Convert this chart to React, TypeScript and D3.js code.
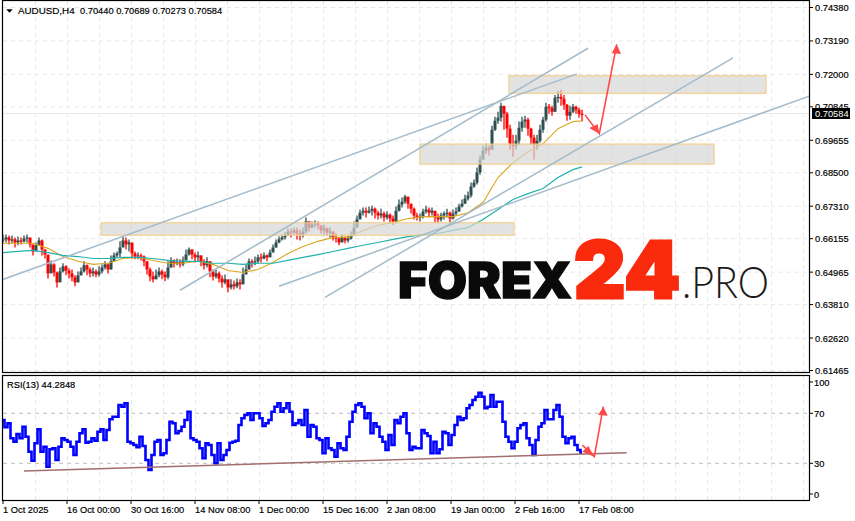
import React from "react";
import * as d3 from "d3";

// Prices are in pips (1/10000); bars are 4-hour bars sampled across the axis.
const closes = [6613,6620,6609,6613,6602,6609,6606,6616,6620,6595,6570,6592,6609,6577,6559,6492,6524,6495,6460,6499,6517,6502,6492,6478,6460,6485,6499,6521,6506,6492,6499,6488,6499,6513,6524,6506,6535,6556,6563,6584,6609,6595,6602,6563,6552,6556,6552,6535,6506,6481,6471,6485,6499,6488,6478,6513,6535,6528,6531,6524,6538,6559,6577,6559,6549,6556,6535,6521,6535,6499,6481,6492,6474,6460,6471,6442,6453,6446,6460,6453,6488,6506,6535,6531,6535,6549,6545,6556,6549,6566,6584,6602,6613,6620,6627,6641,6638,6645,6634,6630,6641,6677,6655,6666,6670,6663,6645,6652,6638,6641,6620,6616,6602,6620,6609,6616,6627,6655,6684,6708,6715,6708,6715,6722,6708,6698,6705,6691,6701,6687,6677,6715,6737,6747,6765,6740,6722,6698,6691,6694,6712,6719,6708,6715,6691,6684,6698,6705,6708,6687,6705,6712,6730,6740,6758,6769,6801,6815,6851,6897,6929,6939,6932,7003,7035,7046,7088,7060,7007,6953,6946,6964,7010,7032,7039,7007,6975,6950,6964,7003,7039,7085,7081,7067,7117,7120,7113,7092,7053,7067,7085,7074,7060,7058];
const highs = [6630,6630,6627,6627,6620,6623,6620,6627,6630,6613,6592,6602,6620,6613,6577,6549,6538,6528,6499,6513,6528,6521,6510,6506,6485,6499,6513,6535,6524,6513,6513,6506,6517,6524,6535,6528,6556,6566,6570,6606,6623,6620,6613,6595,6570,6566,6563,6556,6535,6513,6499,6506,6513,6506,6499,6535,6549,6542,6545,6542,6552,6577,6584,6577,6566,6570,6556,6542,6549,6535,6506,6506,6499,6485,6488,6464,6471,6467,6474,6471,6513,6524,6545,6542,6552,6559,6563,6566,6559,6577,6595,6613,6623,6630,6638,6652,6652,6655,6655,6648,6655,6691,6677,6677,6680,6677,6663,6666,6655,6655,6641,6634,6620,6630,6623,6627,6641,6677,6698,6719,6726,6726,6730,6733,6726,6715,6722,6712,6712,6705,6698,6730,6755,6762,6772,6765,6740,6726,6708,6705,6722,6733,6726,6726,6712,6705,6708,6712,6722,6712,6719,6726,6740,6755,6772,6783,6815,6826,6869,6911,6946,6953,6946,7017,7049,7067,7099,7088,7067,7021,6985,6985,7032,7049,7053,7046,7010,6985,6985,7021,7049,7099,7095,7088,7127,7142,7145,7127,7095,7088,7095,7088,7081,7074];
const lows = [6602,6602,6595,6599,6584,6592,6595,6602,6602,6584,6556,6577,6592,6556,6545,6474,6502,6481,6442,6478,6495,6485,6474,6464,6446,6467,6485,6495,6485,6478,6481,6478,6481,6492,6506,6492,6506,6542,6549,6549,6588,6577,6570,6545,6542,6542,6538,6517,6488,6464,6460,6471,6478,6471,6464,6471,6513,6513,6521,6513,6517,6542,6556,6542,6531,6535,6517,6506,6513,6478,6467,6474,6460,6442,6453,6425,6435,6435,6439,6435,6453,6499,6506,6513,6521,6528,6531,6542,6535,6552,6570,6584,6599,6609,6613,6627,6620,6630,6613,6609,6620,6634,6641,6652,6655,6648,6634,6630,6627,6620,6609,6602,6592,6606,6599,6602,6613,6634,6663,6691,6698,6691,6705,6698,6687,6684,6687,6677,6684,6670,6663,6670,6712,6726,6740,6722,6705,6684,6680,6677,6687,6705,6691,6698,6673,6670,6677,6684,6691,6673,6684,6698,6712,6726,6740,6751,6762,6797,6808,6843,6897,6918,6911,6932,6999,7024,7032,7003,6975,6932,6907,6932,6950,6996,7010,6982,6950,6897,6932,6957,6992,7032,7060,7053,7067,7099,7088,7074,7035,7039,7063,7060,7046,7032];

// Moving averages, sampled every 5 bars, with the last bar as the final sample.
const maBars = [0,5,10,15,20,25,30,35,40,45,50,55,60,65,70,75,80,85,90,95,100,105,110,115,120,125,130,135,140,145,150,155,160,165,170,175,180,185,190,193];
const fastMa = [6599,6599,6599,6581,6552,6535,6524,6528,6545,6549,6538,6528,6528,6535,6524,6502,6495,6506,6531,6563,6588,6606,6620,6620,6645,6663,6673,6687,6694,6694,6694,6708,6744,6833,6886,6925,6953,7007,7032,7035];
const slowMa = [6566,6570,6574,6566,6556,6552,6545,6545,6549,6549,6545,6538,6535,6535,6528,6528,6524,6528,6528,6538,6549,6559,6570,6581,6592,6602,6613,6623,6630,6634,6645,6655,6684,6719,6755,6776,6794,6833,6861,6871];

const rsiValues = [64.7,58.8,62,50,47.3,53.5,50,59.3,51.3,39.3,32.1,46,57.2,39.3,43.3,27.3,41.2,42,32.7,43.3,50,48.7,47.3,43.3,36.7,47.3,54,57.2,46.5,47.3,50,48.1,55.3,57.2,48.7,56.7,65.2,67.3,67.3,76.7,75.3,78,47.3,46,44.7,42.8,51.3,43.9,32.7,24.7,36.7,47.3,48.7,36.7,38,48.7,63.3,62,54,55.9,59.3,64.7,71.3,50,48.7,47.3,42,34,46,44.7,36.7,30,46,32.7,36.7,40.7,46.5,47.3,48.1,60.7,66,68.7,70,64.7,70,70,66,59.9,62,64.7,71.3,75.3,78,71.3,74,78,71.3,60.7,62,64.7,60.7,72.7,51.3,60.7,59.3,50,48.7,38,50,42,40.7,35.3,46,42,40.7,51.3,63.3,71.3,76.7,78,75.3,66,70,54,62,59.3,51.3,47.3,40.7,52.7,44.7,64.7,62,67.3,70,54,40.7,43.3,42,42,56.7,54,51.9,38,47.3,38,41.2,55.3,54,44.7,52.7,60.7,67.3,64.7,66,74,76.7,80.7,83.3,86.5,83.3,74,75.3,84.7,75.3,79.3,79.3,63.3,51.3,47.3,42,47.3,58,60.7,62,50,44.7,36.7,48.7,59.3,62,72.7,65.2,65.2,72.7,76.7,67.3,51.3,46,50,51.3,44.7,40.7,38.5];

const priceTicks = ["0.74380","0.73190","0.72000","0.70845","0.69655","0.68500","0.67310","0.66155","0.64965","0.63810","0.62620","0.61465"];
const rsiLevels = [70, 30];
const rsiTicks = [100, 70, 30, 0];
const timeLabels = ["1 Oct 2025","16 Oct 00:00","30 Oct 16:00","14 Nov 08:00","1 Dec 00:00","15 Dec 16:00","2 Jan 08:00","19 Jan 00:00","2 Feb 16:00","17 Feb 08:00"];
const barsPerGrid = 64 / 3;
const lastPrice = "0.70584";

// Annotations, each given as [bar, pips].
const trendLines = [
  [[-1, 6467], [191.33, 7202]],
  [[59, 6432], [195, 7293]],
  [[107.33, 6407], [243.33, 7259]],
  [[92, 6446], [284, 7181]],
];
const zones = [
  { from: 32.67, to: 170.33, top: 6672, bottom: 6628 },
  { from: 139, to: 237, top: 6952, bottom: 6881 },
  { from: 168.67, to: 254.33, top: 7195, bottom: 7133 },
];
const priceArrow = { start: [194, 7056], turn: [198.77, 6989], end: [204.57, 7307], headA: [[195.43, 7009], [198.23, 7023]], headB: [[202.9, 7275], [206, 7273]] };
const rsiArrow = { start: [193.1, 44.6], turn: [197.1, 35.3], end: [200.1, 75.3], headA: [[193.1, 39.3], [195.1, 43.8]], headB: [[198.43, 68.6], [201.57, 68.1]] };
const rsiTrend = [[7, 23.8], [207.9, 38.5]];

const W = 855, H = 521;
const FONT = "'Liberation Sans', Arial, sans-serif";
const UP = "#2f4f4f", DOWN = "#ff0000", GRID = "#e8e8e8", TREND = "#a3bbca", ARROW = "#ff4848";

export default function App() {
  const x = d3.scaleLinear().domain([0, closes.length - 1]).range([3, 582]);
  const y = d3.scaleLinear().domain([6146.5, 7438]).range([370.5, 7.5]);
  const yr = d3.scaleLinear().domain([0, 100]).range([500.8, 375.8]);
  const px = ([b, p]: number[]) => `${x(b)},${y(p)}`;
  const pr = ([b, p]: number[]) => `${x(b)},${yr(p)}`;
  const maLine = d3.line<number>().x((_, i) => x(maBars[i])).y((d) => y(d));
  const rsiLine = d3.line<number>().x((_, i) => x(i)).y((d) => yr(d)).curve(d3.curveStep);
  const vGrid = d3.range(35.5, 809, 32);
  const hGrid = priceTicks.map((t) => y(+t * 10000));
  const tickXs = timeLabels.map((_, i) => x(i * barsPerGrid));

  const arrow = (a: any, f: (p: number[]) => string) => (
    <g>
      <polyline points={[a.start, a.turn, a.end].map(f).join(" ")} fill="none" stroke={ARROW} strokeWidth={1.6} />
      <polygon points={[a.turn, ...a.headA].map(f).join(" ")} fill={ARROW} />
      <polygon points={[a.end, ...a.headB].map(f).join(" ")} fill={ARROW} />
    </g>
  );
  const ink = { fill: "#000", stroke: "#000", strokeWidth: 0.18 };

  return (
    <svg width={W} height={H} viewBox={`0 0 ${W} ${H}`} style={{ position: "absolute", left: 0, top: 0, background: "#fff" }} fontFamily={FONT}>
      <defs>
        <filter id="soft" x="-5%" y="-30%" width="110%" height="160%"><feGaussianBlur stdDeviation="1.4" /></filter>
        <clipPath id="main"><rect x={3} y={1} width={806} height={371} /></clipPath>
      </defs>

      {/* grid */}
      {vGrid.map((g) => (
        <g key={g} stroke={GRID} strokeDasharray="4 4">
          <line x1={g} x2={g} y1={1} y2={372} />
          <line x1={g} x2={g} y1={376} y2={500} />
        </g>
      ))}
      {hGrid.map((g, i) => <line key={i} x1={3} x2={809} y1={g} y2={g} stroke={GRID} strokeDasharray="4 4" />)}
      <line x1={3} x2={809} y1={113.5} y2={113.5} stroke="#e8e8e8" strokeWidth={1.2} />

      <g clipPath="url(#main)">
        {/* candles */}
        {closes.map((c, i) => {
          const o = i === 0 ? c : closes[i - 1];
          const col = c >= o ? UP : DOWN;
          const xx = x(i);
          return (
            <g key={i}>
              <line x1={xx} x2={xx} y1={y(highs[i])} y2={y(lows[i])} stroke={col} strokeWidth={1.3} />
              <rect x={xx - 1.5} width={3} y={y(Math.max(o, c))} height={Math.max(1.2, Math.abs(y(o) - y(c)))} fill={col} />
            </g>
          );
        })}
        <path d={maLine(fastMa) ?? ""} fill="none" stroke="#daa520" strokeWidth={1.1} />
        <path d={maLine(slowMa) ?? ""} fill="none" stroke="#20b2aa" strokeWidth={1.2} />

        {/* zones */}
        {zones.map((z, i) => {
          const zx = x(z.from), zw = x(z.to) - x(z.from), zy = y(z.top), zh = y(z.bottom) - y(z.top);
          return (
            <g key={i}>
              <rect x={zx} y={zy} width={zw} height={zh} fill="#b0b0b0" opacity={0.22} filter="url(#soft)" />
              <rect x={zx} y={zy} width={zw} height={zh} fill="#dcdcdc" fillOpacity={0.62} stroke="#f3cd85" strokeWidth={1.1} />
            </g>
          );
        })}

        {/* trend lines */}
        {trendLines.map((l, i) => (
          <line key={i} x1={x(l[0][0])} y1={y(l[0][1])} x2={x(l[1][0])} y2={y(l[1][1])} stroke={TREND} strokeWidth={1.5} />
        ))}
        {arrow(priceArrow, px)}
      </g>

      {/* watermark */}
      <g>
        <text x={398} y={297.5} fontFamily="Inter, 'Noto Sans', sans-serif" fontWeight={900} fontSize={50} textLength={174} lengthAdjust="spacingAndGlyphs" fill="#0a0a0a" stroke="#0a0a0a" strokeWidth={1.3}>FOREX</text>
        <text x={574} y={297.5} fontFamily="Inter, 'Noto Sans', sans-serif" fontWeight={900} fontSize={79} textLength={106} lengthAdjust="spacingAndGlyphs" fill="#fa2a0c" stroke="#fa2a0c" strokeWidth={3}>24</text>
        <text x={682} y={298} fontFamily="Lato, 'Open Sans', sans-serif" fontWeight={300} fontSize={43} textLength={87} lengthAdjust="spacingAndGlyphs" fill="#1a1a1a">.PRO</text>
      </g>

      {/* RSI panel */}
      {rsiLevels.map((l) => <line key={l} x1={3} x2={809} y1={yr(l)} y2={yr(l)} stroke="#bdbdbd" strokeDasharray="4 4" />)}
      <path d={rsiLine(rsiValues) ?? ""} fill="none" stroke="#0000ff" strokeWidth={2.6} strokeLinejoin="miter" />
      <line x1={x(rsiTrend[0][0])} y1={yr(rsiTrend[0][1])} x2={x(rsiTrend[1][0])} y2={yr(rsiTrend[1][1])} stroke="#a36e6e" strokeWidth={1.5} />
      {arrow(rsiArrow, pr)}

      {/* frames */}
      <g fill="none" stroke="#000" strokeWidth={1.2}>
        <rect x={2.5} y={0.5} width={807} height={372} />
        <rect x={2.5} y={375.5} width={807} height={125} />
      </g>

      {/* price axis */}
      {priceTicks.map((t, i) => (
        <g key={t}>
          <line x1={810} x2={813} y1={hGrid[i]} y2={hGrid[i]} stroke="#000" />
          <text x={815} y={hGrid[i] + 3.5} fontSize={9.3} {...ink}>{t}</text>
        </g>
      ))}
      <rect x={812} y={108} width={38} height={11} fill="#000" />
      <text x={815} y={117} fontSize={9.3} fill="#fff">{lastPrice}</text>

      {/* RSI axis */}
      {rsiTicks.map((t) => {
        const ty = t === 100 ? 382 : t === 0 ? 494 : yr(t);
        return (
          <g key={t}>
            <line x1={810} x2={813} y1={ty} y2={ty} stroke="#000" />
            <text x={814} y={ty + 3.5} fontSize={9.3} {...ink}>{t}</text>
          </g>
        );
      })}

      {/* time axis */}
      {timeLabels.map((t, i) => (
        <g key={t}>
          <line x1={tickXs[i]} x2={tickXs[i]} y1={500} y2={504} stroke="#000" />
          <text x={tickXs[i]} y={512.5} fontSize={9.3} {...ink}>{t}</text>
        </g>
      ))}

      {/* titles */}
      <polygon points="6.3,9.3 12.7,9.3 9.5,12.7" fill="#000" />
      <text x={18} y={14} fontSize={9.8} {...ink}>AUDUSD,H4</text>
      <text x={80} y={14} fontSize={9.3} {...ink}>0.70440 0.70689 0.70273 0.70584</text>
      <text x={7} y={387.5} fontSize={9.3} {...ink}>RSI(13) 44.2848</text>
    </svg>
  );
}
